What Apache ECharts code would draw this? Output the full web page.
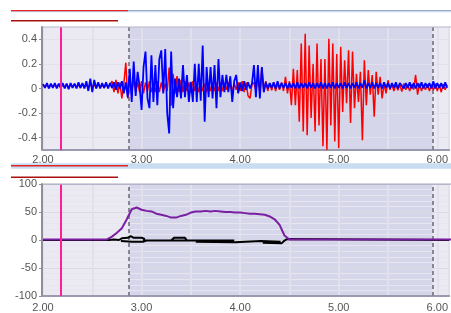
<!DOCTYPE html>
<html><head><meta charset="utf-8">
<script src="https://cdn.jsdelivr.net/npm/echarts@6/dist/echarts.min.js"></script>
<style>html,body{margin:0;padding:0;background:#fff}#c{width:451px;height:313px}</style>
</head><body><div id="c"></div><script>
// sampling grid of the two waveforms (top panel)
const T0 = 2.0, DT = 0.02;
const blueY = [
0.035,0.005,0.045,0.0,0.04,0.005,0.045,0.0,0.04,0.005,
0.045,0.0,0.04,-0.005,0.045,0.005,0.04,0.0,0.05,0.005,
0.045,0.0,0.06,-0.02,0.08,-0.03,0.07,0.0,0.05,0.0,
0.045,0.005,0.05,0.0,0.045,0.005,0.05,-0.01,0.05,0.0,
0.06,-0.04,0.05,-0.07,0.16,-0.11,0.22,-0.06,0.135,0.02,
-0.175,0.175,0.30,-0.08,-0.16,0.27,-0.11,0.19,-0.135,0.24,
0.31,-0.04,0.32,-0.20,-0.365,0.30,-0.16,0.08,-0.07,0.08,
-0.08,0.19,-0.07,0.11,-0.11,0.055,-0.11,0.20,-0.11,0.20,
-0.10,0.35,-0.27,0.175,-0.07,0.175,-0.08,0.19,-0.16,0.24,
-0.07,0.11,-0.03,0.11,-0.03,0.10,-0.11,0.06,0.11,-0.04,
0.05,-0.02,0.06,-0.01,0.05,0.0,0.04,0.19,-0.07,0.19,
-0.08,0.175,-0.03,0.05,0.0,0.045,0.005,0.05,0.0,0.06,
0.0,0.045,0.005,0.045,0.0,
0.045,0.005,0.045,0.0,0.05,0.0,0.045,0.005,0.045,0.0,
0.05,0.005,0.045,0.0,0.045,0.005,0.05,0.0,0.045,0.0,
0.045,0.005,0.05,0.0,0.045,0.005,0.045,0.0,0.05,0.005,
0.045,0.0,0.045,0.005,0.05,0.0,0.045,0.005,0.065,0.0,
0.045,0.005,0.05,0.0,0.045,0.005,0.045,0.0,0.05,0.005,
0.045,0.0,0.045,0.005,0.05,0.0,0.045,0.06,0.0,0.045,
0.005,0.05,0.0,0.045,0.0,0.045,0.005,0.05,0.0,0.045,
0.005,0.045,0.0,0.06,0.0,0.045,0.005,0.045,0.0,0.05,
0.005
];
const redY = [
0.035,0.01,0.03,0.005,0.035,0.01,0.03,0.01,0.035,0.005,
0.03,0.01,0.035,0.005,0.03,0.01,0.035,0.01,0.03,0.005,
0.035,0.01,0.03,0.005,0.035,0.01,0.03,0.005,0.035,0.01,
0.03,0.005,0.035,0.01,0.03,0.06,-0.03,0.07,-0.04,0.05,
-0.08,0.04,0.21,-0.08,0.06,-0.03,0.07,-0.02,0.05,-0.03,
0.06,-0.04,0.05,-0.02,0.06,-0.03,0.04,-0.03,0.06,-0.03,
0.05,-0.03,0.04,-0.02,0.17,-0.14,0.12,-0.04,0.10,-0.03,
0.07,-0.03,0.06,-0.02,0.05,-0.03,0.06,-0.02,0.04,-0.03,
0.05,-0.02,0.04,-0.03,0.05,-0.02,0.04,-0.02,0.05,-0.02,
0.05,-0.02,0.04,-0.01,0.05,0.05,-0.02,0.04,-0.01,0.05,
-0.02,0.06,-0.03,0.05,-0.06,-0.08,0.03,0.05,-0.02,0.10,
-0.04,0.17,-0.03,0.06,-0.02,0.04,-0.015,0.05,-0.02,0.04,
-0.01,0.05,-0.02,0.094,-0.04,0.06,-0.135,0.16,-0.135,0.15,
-0.27,0.365,-0.35,0.445,-0.38,0.35,-0.24,0.20,-0.35,0.365,
-0.30,0.24,-0.47,0.24,-0.50,0.405,-0.30,0.365,-0.43,0.28,
-0.485,0.34,-0.19,0.23,-0.12,0.31,-0.28,0.30,-0.16,0.12,
-0.11,0.135,-0.42,0.23,-0.135,0.15,-0.05,0.11,-0.23,0.135,
-0.05,0.094,-0.08,0.04,-0.04,0.067,-0.01,0.03,-0.02,0.035,
-0.015,0.03,-0.025,0.04,-0.01,0.03,-0.02,0.035,-0.01,0.11,
-0.05,0.04,-0.02,0.03,-0.01,0.035,-0.02,0.03,-0.015,0.04,
-0.02,0.03,-0.03,0.035,-0.01,0.03
];
// bottom panel
const PT0 = 2.0, PDT = 0.05;
const purpleY = [
1,1,1,1,1,1,1,1,1,1,
1,1,1,1,6,13,21,37,55,58,
54,52,51,47,45,43,40,40,43,45,
49,51,51,52,51,52,51,50,50,49,
49,48,47,47,46,45,42,37,27,8,
1,1,1,1,1,1,1,1,1,1,
1,1,1,1,1,1,1,1,1,1,
1,1,1,1,1,1,1,1,1,1,
1,1,1,1
];
const blackT = [2.00,2.67,2.72,2.77,2.80,2.86,2.89,2.92,3.00,3.03,3.02,2.90,2.79,2.78,2.79,2.90,3.02,3.05,3.46,3.44,3.33,3.30,3.46,3.53,3.55,3.94,3.95,3.55,3.54,3.55,3.95,3.97,4.21,4.23,4.41,4.42,4.23,4.22,4.23,4.42,4.45,4.48,4.50,6.12];
const blackV = [0,0,1,0,3,4,7,4,4,2,-3,-3,-2,0,-2,-3,-3,-1,-1,4,4,-1,-1,-1,0,-1,-4,-3,-1,-3,-4,-2,-2,-3,-3,-6,-5,-3,-5,-6,-1,2,0,0];

const xTicks = [2,3,4,5,6];
const yTicksTop = [-0.4,-0.2,0,0.2,0.4];
const yTicksBottom = [-100,-50,0,50,100];
const cursorX = 2.181;
const windowX = [2.874, 5.95];

const FONT = '"Liberation Sans Narrow","Liberation Sans",Arial,sans-serif';
const chart = echarts.init(document.getElementById('c'), null, {renderer:'canvas'});

function xAxis(i){
  return {type:'value', gridIndex:i, min:2, max:6.12, interval:0.5, z:1.5,
    axisLine:{show:true,onZero:false,lineStyle:{color:'#9a9aae',width:2}},
    axisTick:{show:false},
    axisLabel:{customValues:xTicks, formatter:v=>v.toFixed(2), color:'#555', fontSize:11, fontFamily:FONT, margin:i===0?4:6},
    splitLine:{show:true,lineStyle:{color:'#e1e0ec',width:2}}};
}
function decor(i){
  return [
    {type:'line', xAxisIndex:i, yAxisIndex:i, data:[], z:1, silent:true,
     markArea:{silent:true, z:1, itemStyle:{color:'#d6d6eb'}, data:[[{xAxis:windowX[0]},{xAxis:windowX[1]}]]}},
    {type:'line', xAxisIndex:i, yAxisIndex:i, data:[], z:1.8, silent:true,
     markLine:{silent:true, z:1.8, symbol:'none', label:{show:false}, animation:false,
       lineStyle:{color:'#858594',width:2,type:[4,3]}, data:[{xAxis:windowX[0]},{xAxis:windowX[1]}]}},
    {type:'line', xAxisIndex:i, yAxisIndex:i, data:[], z:10, silent:true,
     markLine:{silent:true, z:10, symbol:'none', label:{show:false}, animation:false,
       lineStyle:{color:'#ff1e96',width:2,type:'solid'}, data:[{xAxis:cursorX}]}}
  ];
}
const yLabel = {color:'#555', fontSize:11, fontFamily:FONT, margin:5};
const option = {
  animation:false,
  grid:[
    {left:43, right:-2, top:27, height:123, show:true, backgroundColor:'#ebeaf2', borderWidth:0},
    {left:43, right:-2, top:184, height:120, show:true, backgroundColor:'#ebeaf2', borderWidth:0}
  ],
  xAxis:[xAxis(0), xAxis(1)],
  yAxis:[
    {type:'value', gridIndex:0, min:-0.5, max:0.5, interval:0.1, z:1.5, offset:1,
     axisLine:{show:true,onZero:false,lineStyle:{color:'#8e8e9c',width:2}},
     axisTick:{show:true, customValues:yTicksTop, length:3, lineStyle:{color:'#8e8e9c'}},
     axisLabel:Object.assign({customValues:yTicksTop, formatter:v=>v===0?'0':v.toFixed(1)}, yLabel),
     splitLine:{show:true,lineStyle:{color:'#e1e0ec',width:1}}},
    {type:'value', gridIndex:1, min:-100, max:100, interval:50, z:1.5, offset:1,
     axisLine:{show:true,onZero:false,lineStyle:{color:'#8e8e9c',width:2}},
     axisTick:{show:true, customValues:yTicksBottom, length:3, lineStyle:{color:'#8e8e9c'}},
     axisLabel:Object.assign({customValues:yTicksBottom, formatter:v=>String(v)}, yLabel),
     minorTick:{show:false, splitNumber:5},
     minorSplitLine:{show:true, lineStyle:{color:'#e6e5f0',width:1}},
     splitLine:{show:true,lineStyle:{color:'#dad9e4',width:1}}}
  ],
  series:[
    ...decor(0), ...decor(1),
    {type:'line', xAxisIndex:0, yAxisIndex:0, z:2, symbol:'none', silent:true,
     lineStyle:{color:'#ff0000',width:1.5}, data:redY.map((v,i)=>[T0+i*DT, v])},
    {type:'line', xAxisIndex:0, yAxisIndex:0, z:2, symbol:'none', silent:true,
     lineStyle:{color:'#0000ff',width:1.8}, data:blueY.map((v,i)=>[T0+i*DT, v])},
    {type:'line', xAxisIndex:1, yAxisIndex:1, z:2, symbol:'none', silent:true,
     lineStyle:{color:'#000000',width:2}, data:blackT.map((t,i)=>[t, blackV[i]])},
    {type:'line', xAxisIndex:1, yAxisIndex:1, z:2, symbol:'none', silent:true,
     lineStyle:{color:'#7a1fa2',width:2}, data:purpleY.map((v,i)=>[PT0+i*PDT, v])}
  ],
  graphic:[
    {type:'rect', z:100, silent:true, shape:{x:11,y:10,width:440,height:2.3}, style:{fill:'#c8dcf2'}},
    {type:'rect', z:101, silent:true, shape:{x:128,y:10,width:323,height:1}, style:{fill:'#9aa6c6'}},
    {type:'rect', z:101, silent:true, shape:{x:11,y:10,width:117,height:1.3}, style:{fill:'#e02424'}},
    {type:'rect', z:101, silent:true, shape:{x:11,y:20,width:107,height:1.6}, style:{fill:'#a81010'}},
    {type:'rect', z:100, silent:true, shape:{x:11,y:163.3,width:440,height:5.5}, style:{fill:'#c8dcf2'}},
    {type:'rect', z:101, silent:true, shape:{x:11,y:165,width:117,height:1.6}, style:{fill:'#e02424'}},
    {type:'rect', z:101, silent:true, shape:{x:11,y:176.5,width:107,height:1.6}, style:{fill:'#a81010'}},
    {type:'rect', z:100, silent:true, shape:{x:43,y:26.5,width:408,height:1}, style:{fill:'#b6b6cc'}},
    {type:'rect', z:100, silent:true, shape:{x:43,y:183.5,width:408,height:1.2}, style:{fill:'#a8a8c0'}}
  ]
};
chart.setOption(option);
</script></body></html>
